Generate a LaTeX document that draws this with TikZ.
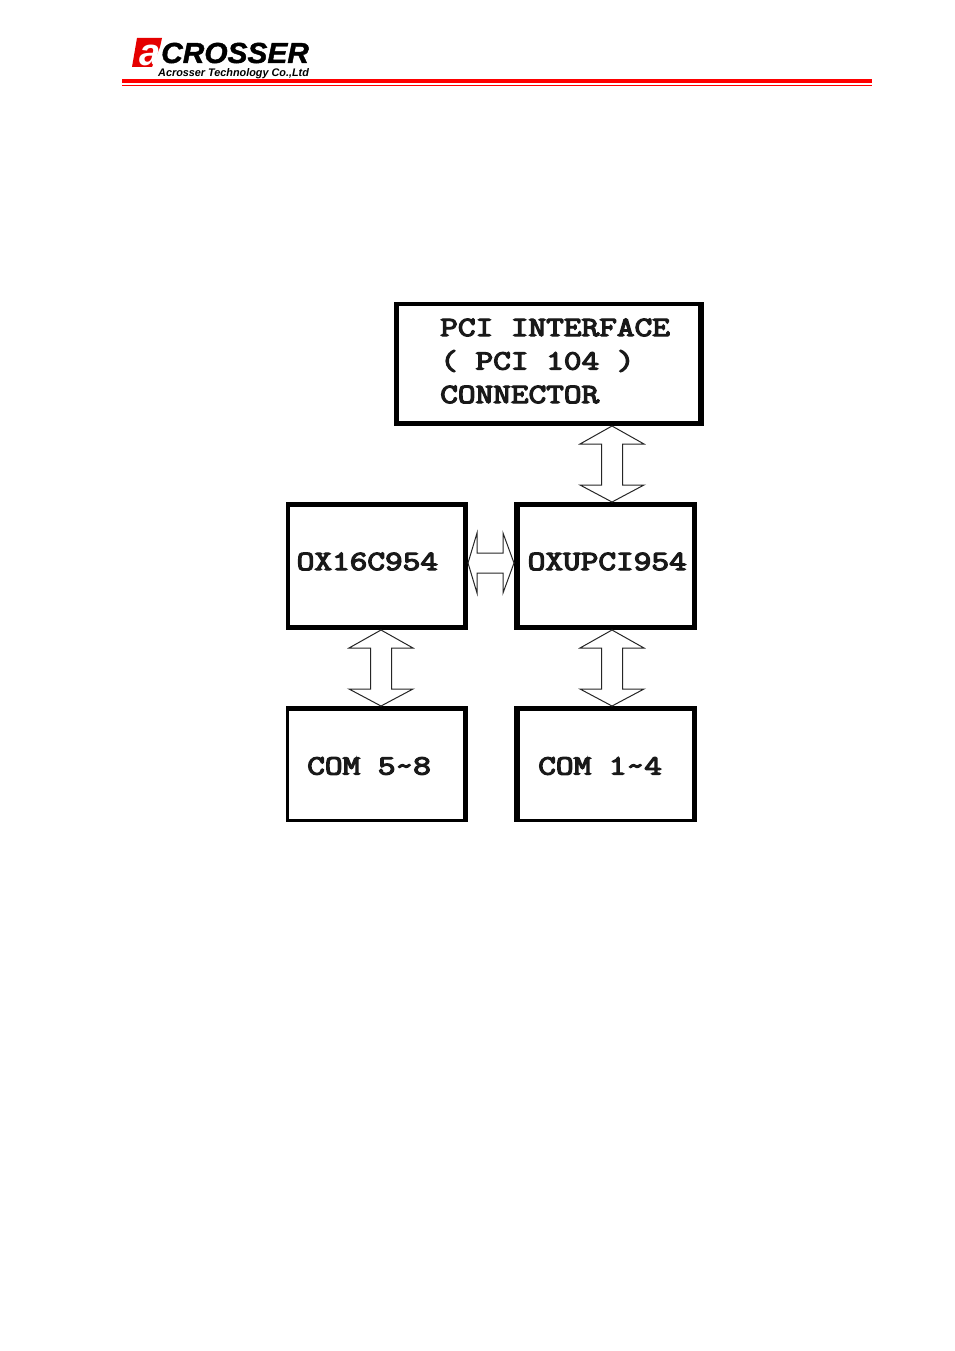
\documentclass[tikz,border=0pt]{standalone}
\usepackage{fontspec}
\setsansfont{Liberation Sans}
\newfontfamily\boxfont[FakeBold=4]{Latin Modern Mono}
\usetikzlibrary{calc}
\tikzset{
  framebox/.style n args={6}{minimum width=#1pt,minimum height=#2pt,inner sep=0pt,outer sep=0pt,fill=black,
    path picture={\fill[white] ($(path picture bounding box.south west)+(#3,-#6)$) rectangle ($(path picture bounding box.north east)+(-#5,#4)$);}},
  boxtext/.style={font=\boxfont\fontsize{28}{33.5}\selectfont,anchor=west,xscale=1.225,transform shape,inner sep=0pt,align=left,text=black!90},
  varrow/.style={draw=black!85,line width=1pt,fill=white,
    to path={let \p1=(\tikztostart),\p2=(\tikztotarget) in
      -- ({\x1+32pt},{\y1-18pt}) -- ({\x1+10.5pt},{\y1-18pt}) -- ({\x1+10.5pt},{\y2+17pt}) -- ({\x1+32pt},{\y2+17pt})
      -- (\x2,\y2) -- ({\x1-32pt},{\y2+17pt}) -- ({\x1-10.5pt},{\y2+17pt}) -- ({\x1-10.5pt},{\y1-18pt}) -- ({\x1-32pt},{\y1-18pt}) -- cycle}},
  harrow/.style={draw=black!85,line width=1pt,fill=white,
    to path={let \p1=(\tikztostart),\p2=(\tikztotarget) in
      -- ({\x1+9pt},{\y1+30pt}) -- ({\x1+9pt},{\y1+10pt}) -- ({\x2-11pt},{\y1+10pt}) -- ({\x2-11pt},{\y1+30pt})
      -- (\x2,\y2) -- ({\x2-11pt},{\y1-30pt}) -- ({\x2-11pt},{\y1-10pt}) -- ({\x1+9pt},{\y1-10pt}) -- ({\x1+9pt},{\y1-30pt}) -- cycle}},
  logoA/.style={font=\sffamily\bfseries\itshape\fontsize{29}{29}\selectfont\addfontfeature{FakeBold=1.5},inner sep=0pt,anchor=base west,text depth=0pt},
  logoB/.style={font=\sffamily\bfseries\itshape\fontsize{11}{11}\selectfont,inner sep=0pt,anchor=base west,text height=7.5pt,xscale=0.985,transform shape}
}
\begin{document}
\begin{tikzpicture}[x=1pt,y=-1pt]
\useasboundingbox[fill=white] (0,0) rectangle (954,1351);
% header
\fill[red] (122,79.5) rectangle (872,83.5);
\fill[red] (122,85) rectangle (872,86);
\fill[red!90!black] (137,38) -- (162,38) -- (160,47) -- (152,67) -- (132,67) -- cycle;
\node[font=\sffamily\bfseries\itshape\fontsize{38}{38}\selectfont,text=white,inner sep=0pt,anchor=base] (logoa) at (150,66) {a};
\node[logoA,xscale=1.03,transform shape] (logoname) at (161,63) {CROSSER};
\node[logoB] (logosub) at (158,76.5) {Acrosser Technology Co.,Ltd};
% boxes
\node[framebox={310}{124}{5}{4}{6}{5}] (pci) at (549,364) {};
\node[framebox={182}{128}{4}{5}{5}{5}] (ox16) at (377,566) {};
\node[framebox={183}{128}{6}{5}{5}{5}] (oxu) at (605.5,566) {};
\node[framebox={182}{116}{3}{5}{5}{3}] (com58) at (377,764) {};
\node[framebox={183}{116}{6}{5}{5}{3}] (com14) at (605.5,764) {};
% text
\node[boxtext] (pcitext) at (440,361) {PCI INTERFACE\\( PCI 104 )\\CONNECTOR};
\node[boxtext] (ox16text) at (296.5,561.5) {OX16C954};
\node[boxtext] (oxutext) at (527.5,561.5) {OXUPCI954};
\node[boxtext] (com58text) at (307,766) {COM 5\textasciitilde 8};
\node[boxtext] (com14text) at (538,766) {COM 1\textasciitilde 4};
% connectors
\coordinate (p1) at ($(pci.south)+(63,0)$);
\coordinate (p2) at ($(oxu.north)+(6.5,0)$);
\coordinate (q1) at ($(ox16.south)+(4,0)$);
\coordinate (q2) at ($(com58.north)+(4,0)$);
\coordinate (r1) at ($(oxu.south)+(6.5,0)$);
\coordinate (r2) at ($(com14.north)+(6.5,0)$);
\coordinate (s1) at ($(ox16.east)+(0,-3)$);
\coordinate (s2) at ($(oxu.west)+(0,-3)$);
\path[varrow] (p1) to (p2);
\path[varrow] (q1) to (q2);
\path[varrow] (r1) to (r2);
\path[harrow] (s1) to (s2);
\end{tikzpicture}
\end{document}
